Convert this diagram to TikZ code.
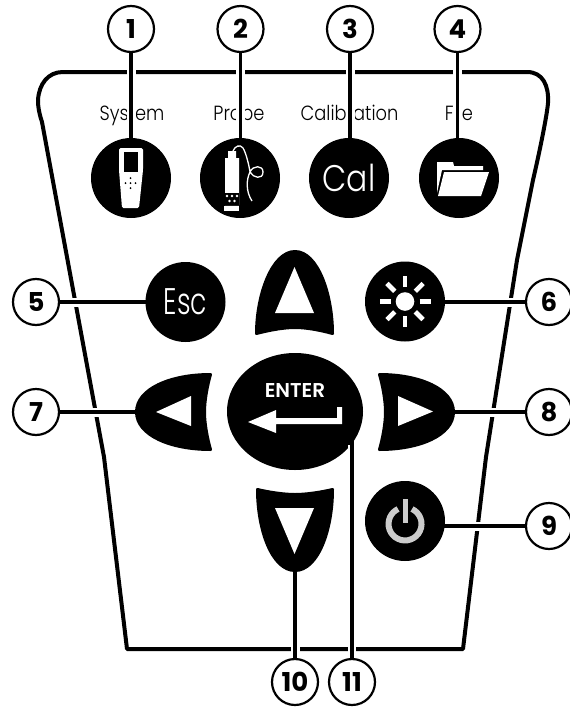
\documentclass[tikz,border=0pt]{standalone}
\usetikzlibrary{shapes.geometric}
\usepackage{fontspec}
\setmainfont{Poppins}[UprightFont={* Light},BoldFont={* SemiBold}]
\newfontfamily\numf{Poppins}[UprightFont={* Bold}]
\newfontfamily\labf{Poppins}[UprightFont={* Light},FakeStretch=0.87]
\newfontfamily\calf{Poppins}[UprightFont={* Light},FakeStretch=0.85]
\newfontfamily\escf{Poppins}[UprightFont={* Light},FakeStretch=0.72]
\pgfdeclarelayer{under}
\pgfdeclarelayer{over}
\pgfsetlayers{under,main,over}
\tikzset{
  callout/.style={circle,draw=black,line width=2.2pt,fill=white,minimum size=46pt,inner sep=0pt,font=\numf\fontsize{26}{26}\selectfont},
  keydisc/.style={circle,fill=black,minimum size=80pt,inner sep=0pt,text=white},
  halo/.style={white,line width=9pt},
  leader/.style={black,line width=3.6pt},
  shell/.style={black,line width=4pt,line join=round},
  keylabel/.style={anchor=base,font=\labf\fontsize{20.5}{20}\selectfont,inner sep=0pt},
  arrowkey/.style={fill=black,draw=black,line width=3pt,line join=round},
}
\begin{document}
\begin{tikzpicture}[x=1pt,y=-1pt]
\useasboundingbox (0,0) rectangle (570,707);
% callouts
\begin{pgfonlayer}{over}
\node[callout] (n1) at (131,29) {1};
\node[callout] (n2) at (240.5,29) {2};
\node[callout] (n3) at (350,29) {3};
\node[callout] (n4) at (457.5,29) {4};
\node[callout] (n5) at (36,302) {5};
\node[callout] (n6) at (549,302) {6};
\node[callout] (n7) at (36,412) {7};
\node[callout] (n8) at (549,412) {8};
\node[callout] (n9) at (549,526) {9};
\node[callout] (n10) at (295,682) {10};
\node[callout] (n11) at (352,682) {11};
\end{pgfonlayer}
\coordinate (upTop) at (295,251.5);
\coordinate (downTip) at (295,570.5);
\coordinate (leftTip) at (136.5,412);
\coordinate (rightTip) at (453.5,412);
\coordinate (enterEnd) at (352,441);
% keys
\node[keydisc] (b1) at (131,178) {};
\node[keydisc] (b2) at (240,178) {};
\node[keydisc,font=\calf\fontsize{37}{37}\selectfont] (b3) at (349,178) {Cal};
\node[keydisc] (b4) at (459,178) {};
\node[keydisc,font=\escf\fontsize{37}{37}\selectfont] (b5) at (185.5,302) {Esc};
\node[keydisc] (b6) at (405,301.5) {};
\node[keydisc] (b9) at (405,521) {};
\node[ellipse,fill=black,minimum width=136pt,minimum height=117pt,inner sep=0pt] (enter) at (295,411.5) {};
\begin{pgfonlayer}{under}
% outline
\draw[shell] (63,72) -- (527,72) .. controls (543,72) and (549,86) .. (548,103)
  .. controls (547,115) and (540,150) .. (533,180) -- (517,260) -- (486,457) -- (463,649)
  -- (127,649) -- (104,457) -- (42,122) .. controls (38,110) and (38,103) .. (38,100) .. controls (39,84) and (48,72) .. (63,72) -- cycle;
% labels
\node[keylabel] (l1) at (132,120) {System};
\node[keylabel] (l2) at (239,120) {Probe};
\node[keylabel] (l3) at (349.5,120) {Calibration};
\node[keylabel] (l4) at (459,120) {File};
% connectors
\foreach \a/\b in {n1/b1,n2/b2,n3/b3,n4/b4}{
  \draw[halo] (\a.center) -- (\a.center |- \b.center);
  \draw[leader] (\a.center) -- (\a.center |- \b.center);
}
\foreach \a/\b in {n5/b5,n6/b6,n9/b9}{
  \draw[halo] (\a.center) -- (\b.center |- \a.center);
  \draw[leader] (\a.center) -- (\b.center |- \a.center);
}
\draw[halo] (n7.center) -- (leftTip); \draw[leader] (n7.center) -- (leftTip);
\draw[halo] (n8.center) -- (rightTip); \draw[leader] (n8.center) -- (rightTip);
\draw[halo] (n10.center) -- (downTip); \draw[leader] (n10.center) -- (downTip);
\end{pgfonlayer}
% arrow keys
\path[arrowkey] (256.5,333.5) .. controls (256.5,295) and (272,251.5) .. (upTop) .. controls (318,251.5) and (332.5,295) .. (332.5,333.5) .. controls (318,329.5) and (305,327.5) .. (295,327.5) .. controls (285,327.5) and (272,329.5) .. cycle;
\path[arrowkey] (257.5,489.5) .. controls (270,492.5) and (285,494.5) .. (295,494.5) .. controls (305,494.5) and (320,492.5) .. (332.5,489.5) .. controls (332.5,530) and (318,570.5) .. (downTip) .. controls (272,570.5) and (257.5,530) .. cycle;
\path[arrowkey] (210.5,374.5) .. controls (207.5,385) and (204.5,400) .. (204.5,412) .. controls (204.5,424) and (207.5,439) .. (210.5,449.5) .. controls (170,449.5) and (136.5,435) .. (leftTip) .. controls (136.5,389) and (170,374.5) .. cycle;
\path[arrowkey] (379.5,374.5) .. controls (382.5,385) and (385.5,400) .. (385.5,412) .. controls (385.5,424) and (382.5,439) .. (379.5,449.5) .. controls (420,449.5) and (453.5,435) .. (rightTip) .. controls (453.5,389) and (420,374.5) .. cycle;
\fill[white] (294.5,267) -- (275,313) -- (314,313) -- cycle;
\fill[white] (275,508) -- (314,508) -- (294.5,554) -- cycle;
\fill[white] (156,412) -- (191,396) -- (191,426) -- cycle;
\fill[white] (433,411.5) -- (398,396) -- (398,426) -- cycle;
% enter text
\node[white,anchor=base,inner sep=0pt,font=\bfseries\fontsize{20}{20}\selectfont] (entertxt) at (295,397) {ENTER};
\fill[white] (248,422) -- (276,410) -- (276,418) -- (337,418) -- (337,407) -- (342,407) -- (342,424) -- (276,424) -- (276,433) -- cycle;
% connector 11
\draw[white,line width=8pt] (n11.center) -- (352,445);
\draw[leader] (n11.center) -- (enterEnd);
% phone
\fill[white,rounded corners=1.5pt] (119,148) -- (143,148) -- (143,170) -- (139,208) -- (122,208) -- (119,170) -- cycle;
\fill[black] (124,152) rectangle (138,172);
\foreach \dx/\dy in {0/0,-5/0,5/0,0/-5,0/5}
  \fill[black] (130.5+\dx,183+\dy) circle (1pt);
% probe
\fill[white] (228,151) -- (236,151) -- (236,158) -- (239,158) -- (239,205) -- (225,205) -- (225,158) -- (228,158) -- cycle;
\fill[white] (224,206) rectangle (239,211);
\fill[black] (225,193) rectangle (239,205);
\foreach \dx/\dy in {-5/196,0/196,5/196,-2.5/201,2.5/201}
  \fill[white] (232+\dx,\dy) circle (1.4pt);
\draw[white,line width=1.3pt] (233,151) .. controls (235,146) and (240,144) .. (243,148) .. controls (246,153) and (249,165) .. (250,172)
  .. controls (253,178) and (263,180) .. (263,172) .. controls (263,165) and (253,165) .. (250,172) .. controls (246,180) and (246,192) .. (252,201);
% folder
\fill[white] (437,162) -- (453,162) -- (454,166) -- (483,166) -- (483,170) -- (442,170) -- (437,193) -- cycle;
\fill[white] (444,172) -- (489,172) -- (481,196) -- (438,196) -- cycle;
% sun
\fill[white] (b6.center) circle (9.3pt);
\foreach \a in {0,45,...,315}
  \draw[white,line width=4.6pt] ([shift={(\a:14.5)}]b6.center) -- ([shift={(\a:25.5)}]b6.center);
% power
\draw[gray!40,line width=6pt] (412,509) arc[radius=16.5pt,start angle=65,end angle=-245];
\draw[gray!40,line width=5pt] (405.5,499) -- (405.5,523);
\end{tikzpicture}
\end{document}
